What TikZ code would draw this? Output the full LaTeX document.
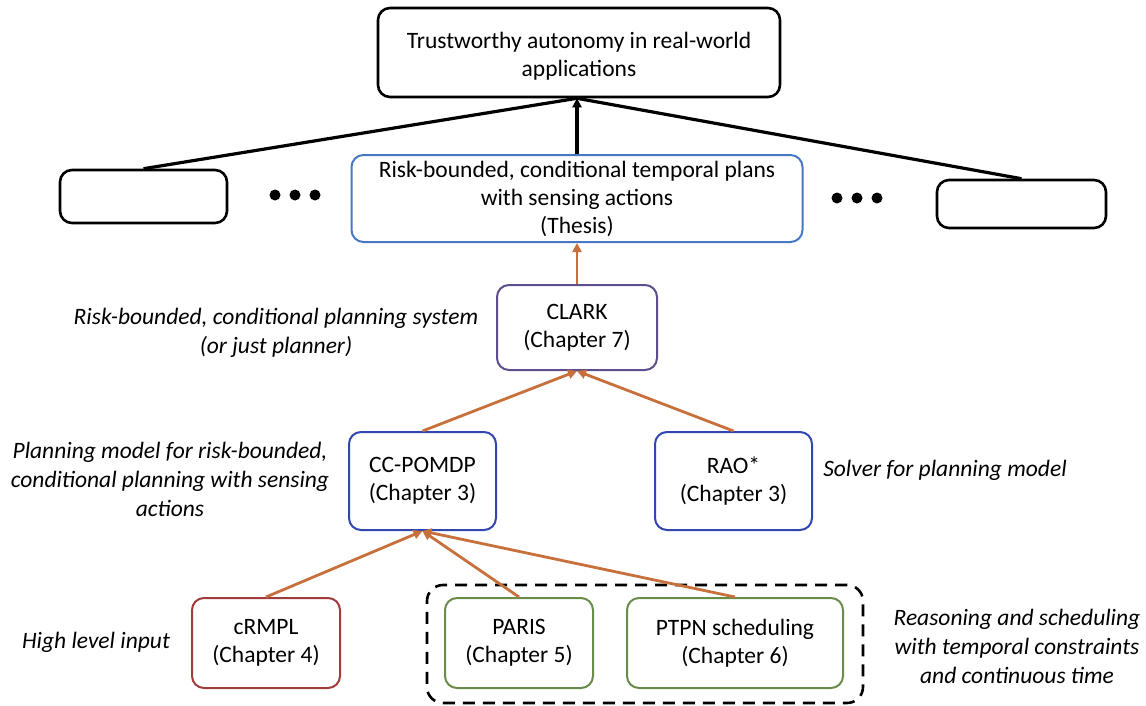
\documentclass[tikz,border=0pt]{standalone}
\usepackage{fontspec}
\setmainfont{Carlito}
\usetikzlibrary{arrows.meta}
\definecolor{linkorange}{RGB}{200,112,60}
\definecolor{thesisblue}{RGB}{70,120,195}
\definecolor{modelblue}{RGB}{50,70,175}
\definecolor{clarkpurple}{RGB}{95,78,140}
\definecolor{inputred}{RGB}{160,60,60}
\definecolor{schedgreen}{RGB}{105,140,75}
\begin{document}
\begin{tikzpicture}[x=1pt,y=-1pt,
  every node/.style={font=\fontsize{23.5}{28}\selectfont},
  box/.style={draw, rounded corners=12pt, align=center, inner sep=0pt, line width=2pt},
  blackbox/.style={box, draw=black, line width=2.6pt},
  note/.style={align=center, font=\fontsize{23.5}{29}\selectfont\itshape},
  dot/.style={circle, fill=black, inner sep=0pt, minimum size=11pt},
  upline/.style={line width=3.2pt, black},
  uparrow/.style={upline, -{Triangle[length=9pt,width=9pt]}},
  orangearrow/.style={line width=2.8pt, linkorange, -{Triangle[length=9pt,width=9pt]}},
  groupbox/.style={draw, dash pattern=on 12pt off 8pt, line width=2.6pt, rounded corners=16pt, inner sep=0pt}
]
\useasboundingbox (0,0) rectangle (1146,705);

% top goal and the layer of applications
\node[blackbox, minimum width=402pt, minimum height=89pt,
  label={[align=center, yshift=-4pt]center:Trustworthy autonomy in real-world\\applications}]
  (top) at (579,52.5) {};
\node[box, draw=thesisblue, minimum width=451pt, minimum height=87pt] (thesis) at (577,198.5)
  {Risk-bounded, conditional temporal plans\\with sensing actions\\(Thesis)};
\node[blackbox, minimum width=167pt, minimum height=53pt] (lbox) at (143.5,196.5) {};
\node[blackbox, minimum width=169pt, minimum height=48pt] (rbox) at (1021.5,204) {};
\node[dot] (ld1) at (275,195) {};
\node[dot] (ld2) at (295,195) {};
\node[dot] (ld3) at (315,195) {};
\node[dot] (rd1) at (837,198) {};
\node[dot] (rd2) at (857,198) {};
\node[dot] (rd3) at (877,198) {};

% planner, model and solver
\node[box, draw=clarkpurple, minimum width=160pt, minimum height=85pt] (clark) at (577,327.5)
  {CLARK\\(Chapter 7)};
\node[box, draw=modelblue, minimum width=147pt, minimum height=98pt] (ccpomdp) at (422.5,481)
  {CC-POMDP\\(Chapter 3)};
\node[box, draw=modelblue, minimum width=157pt, minimum height=98pt] (rao) at (733.5,481)
  {RAO*\\(Chapter 3)};

% inputs and temporal reasoning
\node[groupbox, minimum width=436pt, minimum height=118pt] (group) at (645,644) {};
\node[box, draw=inputred, minimum width=148pt, minimum height=90pt] (crmpl) at (266,643)
  {cRMPL\\(Chapter 4)};
\node[box, draw=schedgreen, minimum width=148pt, minimum height=90pt] (paris) at (519,643)
  {PARIS\\(Chapter 5)};
\node[box, draw=schedgreen, minimum width=216pt, minimum height=90pt] (ptpn) at (735,643)
  {PTPN scheduling\\(Chapter 6)};

% side notes
\node[note] (nclark) at (276,333) {Risk-bounded, conditional planning system\\(or just planner)};
\node[note] (nmodel) at (170,479) {Planning model for risk-bounded,\\conditional planning with sensing\\actions};
\node[note] (nsolver) at (945,470) {Solver for planning model};
\node[note] (ninput) at (96,642) {High level input};
\node[note] (nsched) at (1017,646) {Reasoning and scheduling\\with temporal constraints\\and continuous time};

% connectors
\draw[upline] (lbox.north) -- (thesis.north |- top.south);
\draw[upline] (rbox.north) -- (thesis.north |- top.south);
\draw[uparrow] (thesis.north) -- (thesis.north |- top.south);
\draw[orangearrow] (clark.north) -- (thesis.south);
\draw[orangearrow] (ccpomdp.north) -- (clark.south);
\draw[orangearrow] (rao.north) -- (clark.south);
\draw[orangearrow] (crmpl.north) -- (ccpomdp.south);
\draw[orangearrow] (paris.north) -- (ccpomdp.south);
\draw[orangearrow] (ptpn.north) -- (ccpomdp.south);
\end{tikzpicture}
\end{document}
